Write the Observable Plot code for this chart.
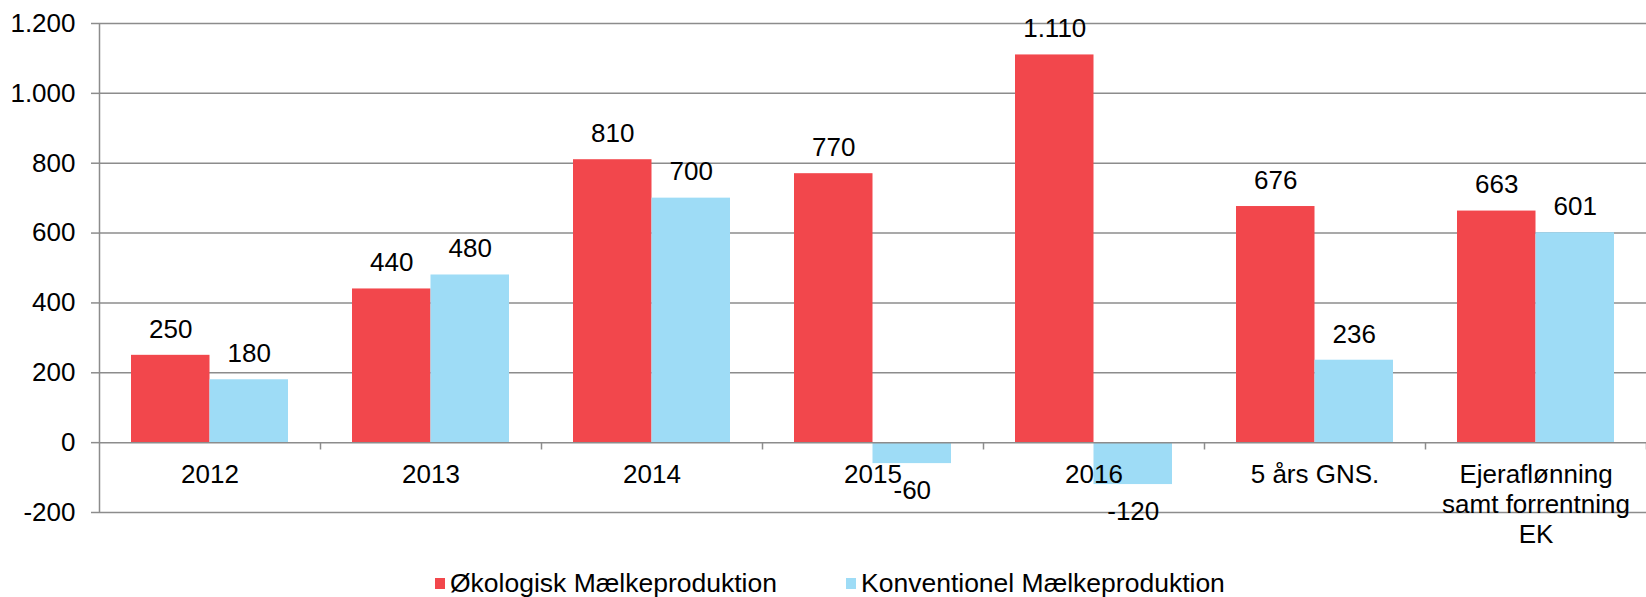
<!DOCTYPE html>
<html>
<head>
<meta charset="utf-8">
<script src="https://cdn.jsdelivr.net/npm/d3@7"></script>
<script src="https://cdn.jsdelivr.net/npm/@observablehq/plot@0.6"></script>
<style>
  html, body { margin: 0; padding: 0; background: #fff; }
  body { width: 1646px; height: 597px; overflow: hidden; font-family: "Liberation Sans", Arial, sans-serif; }
  #legend { position: relative; height: 37px; font-size: 26.5px; color: #000; }
  .item { position: absolute; top: 8px; display: flex; align-items: center; line-height: 30px; white-space: nowrap; }
  .sw { width: 10px; height: 11px; margin-right: 5px; }
</style>
</head>
<body>
<div id="chart"></div>
<div id="legend"></div>
<script>
// ---- data ----
const categories = ["2012", "2013", "2014", "2015", "2016", "5 års GNS.", "Ejeraflønning\nsamt forrentning\nEK"];
const seriesNames = ["Økologisk Mælkeproduktion", "Konventionel Mælkeproduktion"];
const okologisk = [250, 440, 810, 770, 1110, 676, 663];
const konventionel = [180, 480, 700, -60, -120, 236, 601];
const yTicks = [-200, 0, 200, 400, 600, 800, 1000, 1200];
const colors = ["#F2474C", "#9EDCF6"];

// ---- layout ----
const W = 1646, H = 560, ML = 99, MR = 0, MT = 23, MB = 48;
const bw = (W - ML - MR) / categories.length;
const pad = 32, barW = 78.5;
const grid = "#8c8c8c";
const FS = 26;

const fmt = d3.formatLocale({decimal: ",", thousands: ".", grouping: [3], currency: ["", ""], minus: "-"}).format(",d");

const rows = (vals, s) => categories.map((c, i) => ({cat: c, value: vals[i], series: s}));
const okoRows = rows(okologisk, seriesNames[0]);
const konRows = rows(konventionel, seriesNames[1]);
const dxOko = -bw / 2 + pad + barW / 2;
const dxKon = -bw / 2 + pad + barW * 1.5;

const chart = Plot.plot({
  width: W, height: H,
  marginLeft: ML, marginRight: MR, marginTop: MT, marginBottom: MB,
  style: {fontFamily: "'Liberation Sans', Arial, sans-serif", fontSize: FS + "px", color: "#000", background: "#fff", overflow: "visible"},
  x: {domain: categories, padding: 0, axis: null},
  y: {domain: [yTicks[0], yTicks[yTicks.length - 1]], axis: null},
  marks: [
    Plot.ruleY(yTicks.filter(t => t !== 0), {stroke: grid, strokeWidth: 1.5}),
    Plot.axisY({ticks: yTicks, tickSize: 8, tickPadding: 16, tickFormat: fmt, fontSize: FS, stroke: grid, strokeWidth: 1.5, strokeOpacity: 1, fill: "#000", label: null}),
    Plot.barY(okoRows, {x: "cat", y: "value", fill: colors[0], insetLeft: pad, insetRight: bw - pad - barW}),
    Plot.barY(konRows, {x: "cat", y: "value", fill: colors[1], insetLeft: pad + barW, insetRight: bw - pad - 2 * barW}),
    Plot.ruleY([0], {stroke: grid, strokeWidth: 1.5}),
    Plot.ruleX([categories[0]], {x: d => d, dx: -bw / 2, y1: yTicks[0], y2: yTicks[yTicks.length - 1], stroke: grid, strokeWidth: 1.5}),
    Plot.ruleX(categories, {x: d => d, dx: bw / 2, y1: 0, y2: -21, stroke: grid, strokeWidth: 1.5}),
    Plot.text(categories, {x: d => d, y: () => 0, text: d => d, lineAnchor: "top", dy: 19, lineHeight: 1.154, fontSize: FS, fill: "#000"}),
    Plot.text(okoRows, {x: "cat", y: "value", text: d => fmt(d.value), dx: dxOko, dy: -26, filter: d => d.value >= 0, fontSize: FS, fill: "#000"}),
    Plot.text(konRows, {x: "cat", y: "value", text: d => fmt(d.value), dx: dxKon, dy: -26, filter: d => d.value >= 0, fontSize: FS, fill: "#000"}),
    Plot.text(konRows, {x: "cat", y: "value", text: d => fmt(d.value), dx: dxKon, dy: 27, filter: d => d.value < 0, fontSize: FS, fill: "#000"})
  ]
});
document.getElementById("chart").appendChild(chart);

const legend = document.getElementById("legend");
const legendX = [435, 846];
seriesNames.forEach((n, i) => {
  const it = document.createElement("div");
  it.className = "item";
  it.style.left = legendX[i] + "px";
  const sw = document.createElement("span");
  sw.className = "sw";
  sw.style.background = colors[i];
  const t = document.createElement("span");
  t.textContent = n;
  it.appendChild(sw); it.appendChild(t);
  legend.appendChild(it);
});
</script>
</body>
</html>
